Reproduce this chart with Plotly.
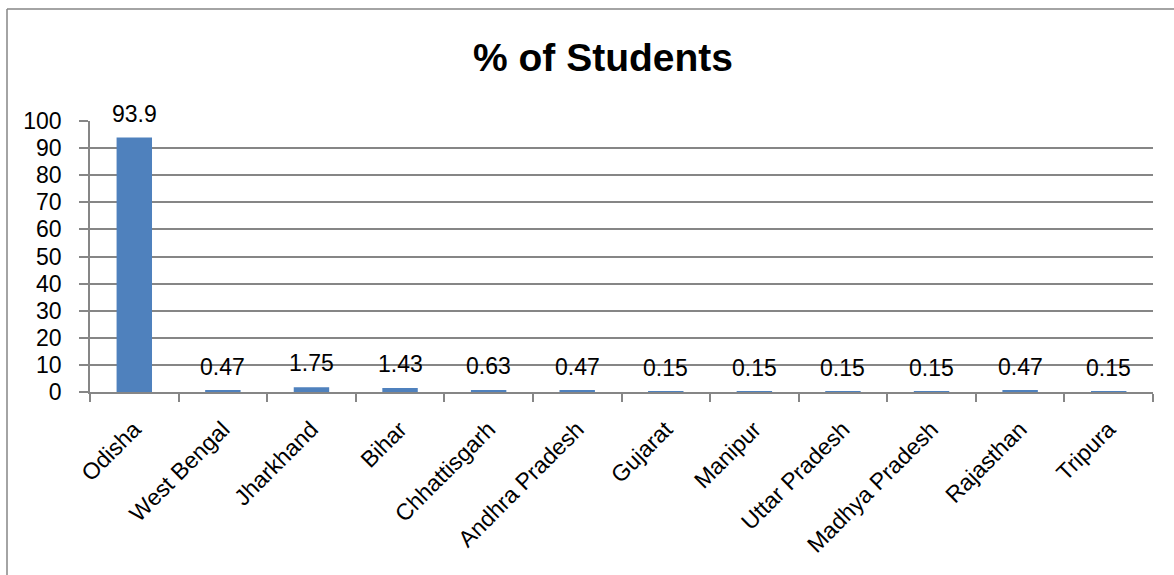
import plotly.graph_objects as go

states = ["Odisha", "West Bengal", "Jharkhand", "Bihar", "Chhattisgarh", "Andhra Pradesh",
          "Gujarat", "Manipur", "Uttar Pradesh", "Madhya Pradesh", "Rajasthan", "Tripura"]
percent = [93.9, 0.47, 1.75, 1.43, 0.63, 0.47, 0.15, 0.15, 0.15, 0.15, 0.47, 0.15]
label_text = ["93.9", "0.47", "1.75", "1.43", "0.63", "0.47", "0.15", "0.15", "0.15", "0.15", "0.47", "0.15"]
y_ticks = [0, 10, 20, 30, 40, 50, 60, 70, 80, 90, 100]

FONT = "Liberation Sans"
GRID = "#868686"
W, H = 1174, 575
L, R, T, B = 90, 21, 121, 183

fig = go.Figure()
fig.add_trace(go.Bar(
    x=states, y=percent, width=0.4,
    marker=dict(color="#4F81BD", line=dict(width=0)),
    hoverinfo="x+y",
))

annotations = []
for s, v, t in zip(states, percent, label_text):
    annotations.append(dict(
        x=s, y=v, xref="x", yref="y", text=t, showarrow=False,
        yanchor="bottom", xanchor="center", yshift=9,
        font=dict(family=FONT, size=23, color="#000000"),
    ))

pw = W - L - R
ph = H - T - B
fx = lambda px: (px - L) / pw
fy = lambda py: (H - B - py) / ph

shapes = [
    dict(type="line", xref="paper", yref="paper", x0=fx(7), x1=fx(1180), y0=fy(9), y1=fy(9),
         line=dict(color=GRID, width=1.5), layer="above"),
    dict(type="line", xref="paper", yref="paper", x0=fx(7), x1=fx(7), y0=fy(9), y1=fy(590),
         line=dict(color=GRID, width=1.5), layer="above"),
]

fig.update_layout(
    width=W, height=H,
    margin=dict(l=L, r=R, t=T, b=B, pad=0),
    paper_bgcolor="white", plot_bgcolor="white",
    showlegend=False,
    title=dict(text="<b>% of Students</b>", x=603 / W, xref="container", xanchor="center",
               y=1 - 57 / H, yref="container", yanchor="middle",
               font=dict(family=FONT, size=39, color="#000000")),
    xaxis=dict(
        type="category", tickangle=-45, tickson="boundaries", ticks="outside", ticklen=8,
        tickcolor=GRID, tickwidth=1.5, showline=True, linecolor=GRID, linewidth=1.5,
        showgrid=False, tickfont=dict(family=FONT, size=23, color="#000000"),
        ticklabelstandoff=13,
    ),
    yaxis=dict(
        range=[0, 100], tickvals=y_ticks, ticks="outside", ticklen=9, tickcolor=GRID,
        tickwidth=1.5, showline=True, linecolor=GRID, linewidth=1.5, showgrid=True,
        gridcolor=GRID, gridwidth=1.5, zeroline=False,
        tickfont=dict(family=FONT, size=23, color="#000000"), ticklabelstandoff=13,
    ),
    annotations=annotations,
    shapes=shapes,
)

fig.write_html("out.html")
